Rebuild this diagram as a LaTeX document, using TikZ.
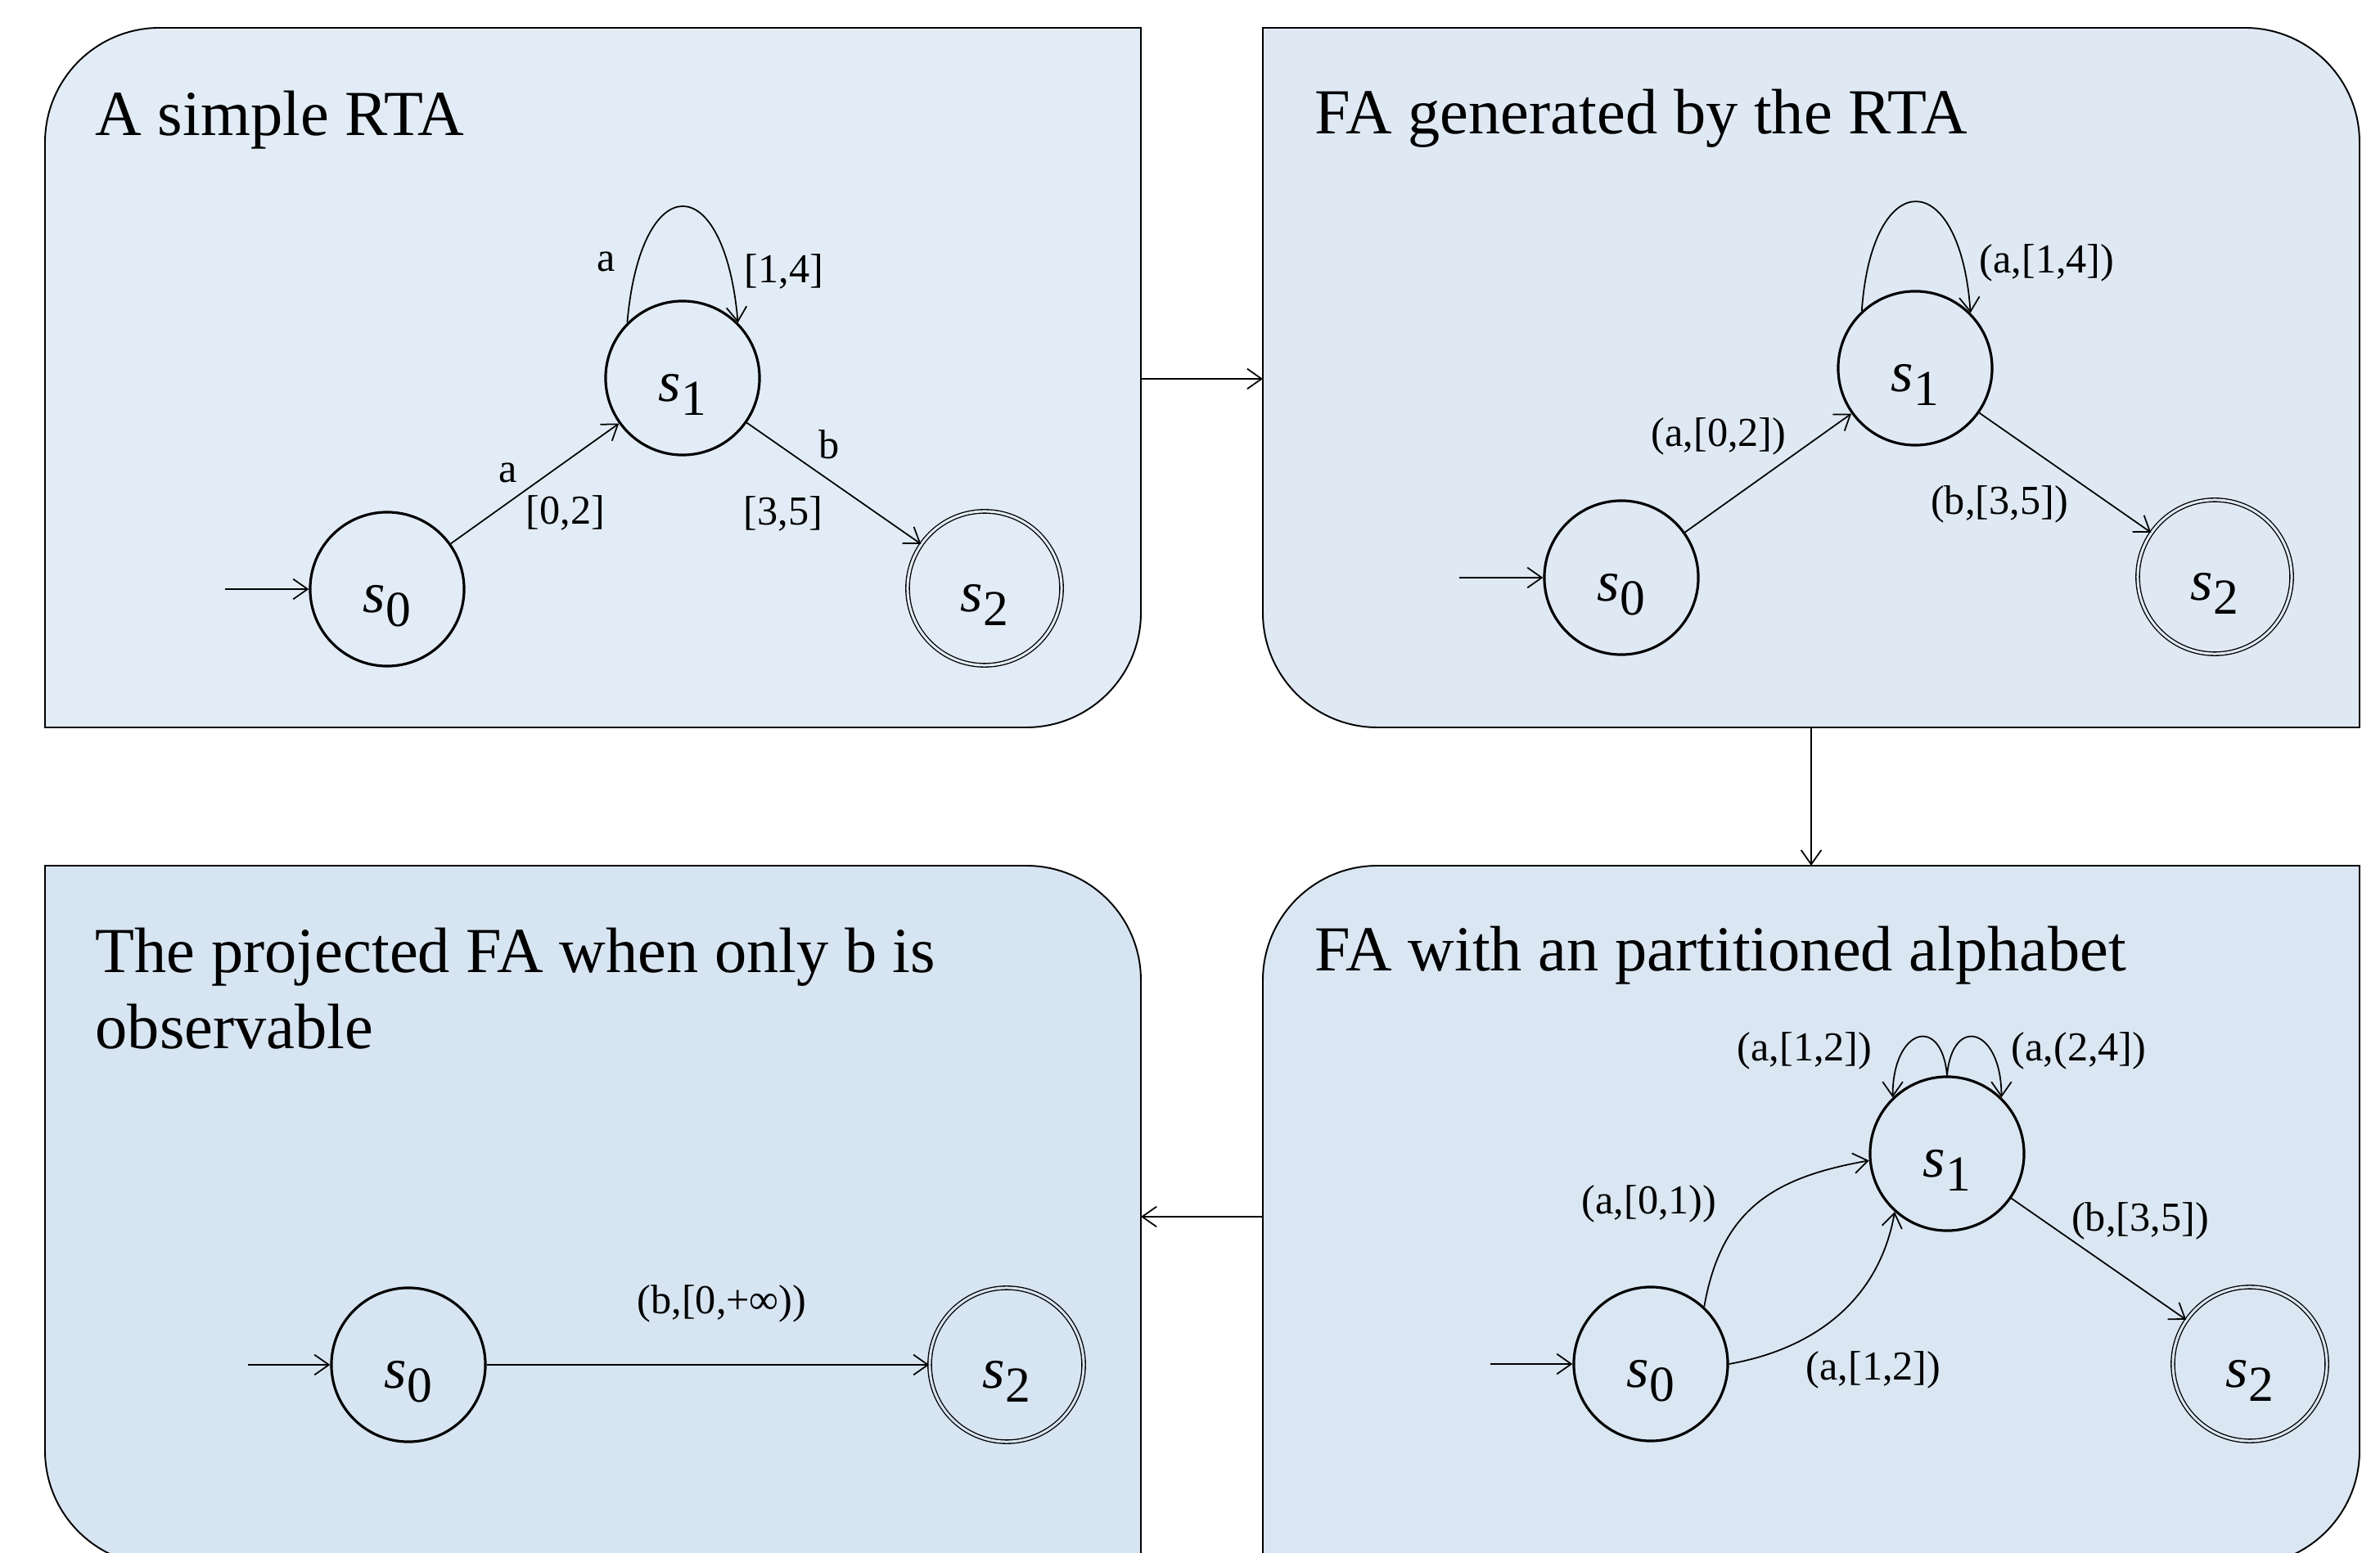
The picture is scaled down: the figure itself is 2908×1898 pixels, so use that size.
\documentclass[tikz,border=0pt]{standalone}
\usepackage{fontspec}
\setmainfont{Liberation Serif}
\usetikzlibrary{arrows.meta}
\definecolor{tlc}{HTML}{E2ECF6}
\definecolor{trc}{HTML}{DFE9F4}
\definecolor{blc}{HTML}{D7E4F1}
\definecolor{brc}{HTML}{DAE6F2}
\newcommand{\stl}[1]{{\fontsize{20pt}{20pt}\selectfont\textit{s}\raisebox{-5pt}{\fontsize{17.5pt}{17.5pt}\selectfont #1}}}
\tikzset{
  panel/.style={draw=black, line width=0.55pt},
  st/.style={circle, draw, line width=0.9pt, minimum size=1.88cm, inner sep=0pt, text height=16pt, text depth=0pt},
  acc/.style={circle, draw, double=#1, line width=0.38pt, double distance=0.85pt, minimum size=1.88cm, inner sep=0pt, text height=16pt, text depth=0pt},
  tr/.style={line width=0.5pt, -{Straight Barb[length=5pt,width=7pt]}},
  lbl/.style={inner sep=0pt, font=\fontsize{14.3pt}{17pt}\selectfont},
  ttl/.style={inner sep=0pt, anchor=base west, align=left, font=\fontsize{22.3pt}{26.7pt}\selectfont},
}
\begin{document}
\begin{tikzpicture}[x=0.01cm, y=-0.01cm]
\clip (0,0) rectangle (2908,1898);
\fill[white] (0,0) rectangle (2908,1898);

% panels
\draw[panel, fill=tlc] (55,600) [rounded corners=1.4cm] -- (55,34) -- (700,34) [sharp corners] -- (1394,34) -- (1394,500) [rounded corners=1.4cm] -- (1394,889) -- (700,889) [sharp corners] -- (55,889) -- cycle;
\draw[panel, fill=trc] (1543,500) -- (1543,34) -- (2200,34) [rounded corners=1.4cm] -- (2883,34) -- (2883,500) [sharp corners] -- (2883,889) -- (2200,889) [rounded corners=1.4cm] -- (1543,889) -- (1543,500) [sharp corners] -- cycle;
\draw[panel, fill=blc] (55,1500) -- (55,1058) -- (700,1058) [rounded corners=1.4cm] -- (1394,1058) -- (1394,1500) [sharp corners] -- (1394,1913) -- (700,1913) [rounded corners=1.4cm] -- (55,1913) -- (55,1500) [sharp corners] -- cycle;
\draw[panel, fill=brc] (1543,1500) [rounded corners=1.4cm] -- (1543,1058) -- (2200,1058) [sharp corners] -- (2883,1058) -- (2883,1500) [rounded corners=1.4cm] -- (2883,1913) -- (2200,1913) [sharp corners] -- (1543,1913) -- cycle;

% panel connectors
\coordinate (tlR) at (1394,463);
\coordinate (trL) at (1543,463);
\coordinate (trB) at (2213,889);
\coordinate (brT) at (2213,1058);
\coordinate (brL) at (1543,1487);
\coordinate (blR) at (1394,1487);
\draw[tr] (tlR) -- (trL);
\draw[tr] (trB) -- (brT);
\draw[tr] (brL) -- (blR);

% titles
\node[ttl] (t1) at (116,166) {A simple RTA};
\node[ttl] (t2) at (1606,164) {FA generated by the RTA};
\node[ttl] (t3) at (116,1282) {The projected FA when only b is\\observable};
\node[ttl] (t4) at (1606,1187) {FA with an partitioned alphabet};

% ---- panel 1
\node[st] (a0) at (473,720) {\stl{0}};
\node[st] (a1) at (834,462) {\stl{1}};
\node[acc=tlc] (a2) at (1203,719) {\stl{2}};
\coordinate (ai) at (275,720);
\draw[tr] (ai) -- (a0);
\draw[tr] (a0) -- (a1);
\draw[tr] (a1) -- (a2);
\draw[tr] (a1.135) .. controls +(85:1.9cm) and +(95:1.9cm) .. (a1.45);
\node[lbl] (la1) at (741,320) {a};
\node[lbl] (la2) at (958,332) {[1,4]};
\node[lbl] (la3) at (621,578) {a};
\node[lbl] (la4) at (691,627) {[0,2]};
\node[lbl] (la5) at (1013,543) {b};
\node[lbl] (la6) at (957,628) {[3,5]};

% ---- panel 2
\node[st] (b0) at (1981,706) {\stl{0}};
\node[st] (b1) at (2340,450) {\stl{1}};
\node[acc=trc] (b2) at (2706,705) {\stl{2}};
\coordinate (bi) at (1783,706);
\draw[tr] (bi) -- (b0);
\draw[tr] (b0) -- (b1);
\draw[tr] (b1) -- (b2);
\draw[tr] (b1.133) .. controls +(86:1.8cm) and +(94:1.8cm) .. (b1.45);
\node[lbl] (lb1) at (2501,321) {(a,[1,4])};
\node[lbl] (lb2) at (2100,533) {(a,[0,2])};
\node[lbl] (lb3) at (2443,616) {(b,[3,5])};

% ---- panel 3
\node[st] (c0) at (499,1668) {\stl{0}};
\node[acc=blc] (c2) at (1230,1668) {\stl{2}};
\coordinate (ci) at (303,1668);
\draw[tr] (ci) -- (c0);
\draw[tr] (c0) -- (c2);
\node[lbl] (lc1) at (882,1593) {(b,[0,+∞))};

% ---- panel 4
\node[st] (d0) at (2017,1667) {\stl{0}};
\node[st] (d1) at (2379,1410) {\stl{1}};
\node[acc=brc] (d2) at (2749,1667) {\stl{2}};
\coordinate (di) at (1821,1667);
\draw[tr] (di) -- (d0);
\draw[tr] (d0.47) .. controls +(80:1.2cm) and +(190:1.2cm) .. (d1.185);
\draw[tr] (d0.east) .. controls +(10:1.05cm) and +(260:1.1cm) .. (d1.228);
\draw[tr] (d1) -- (d2);
\draw[tr] (d1.90) .. controls +(95:0.75cm) and +(90:0.85cm) .. (d1.134);
\draw[tr] (d1.90) .. controls +(85:0.75cm) and +(90:0.85cm) .. (d1.46);
\node[lbl] (ld1) at (2205,1284) {(a,[1,2])};
\node[lbl] (ld2) at (2540,1284) {(a,(2,4])};
\node[lbl] (ld3) at (2015,1471) {(a,[0,1))};
\node[lbl] (ld4) at (2289,1674) {(a,[1,2])};
\node[lbl] (ld5) at (2615,1492) {(b,[3,5])};
\end{tikzpicture}
\end{document}
